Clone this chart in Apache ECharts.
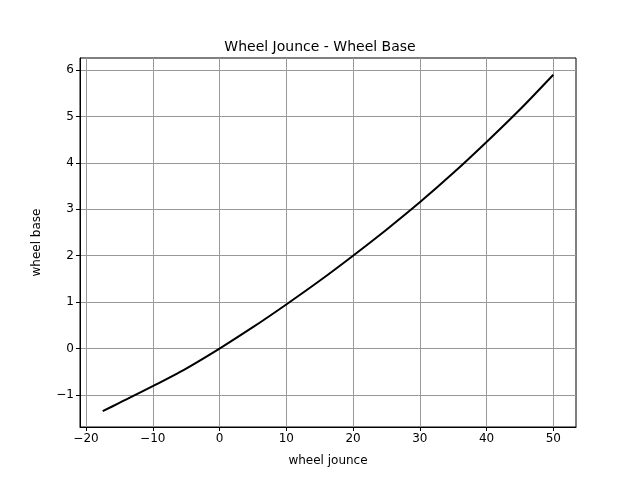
<!DOCTYPE html>
<html><head><meta charset="utf-8">
<script src="https://cdn.jsdelivr.net/npm/echarts@6/dist/echarts.min.js"></script>
<style>html,body{margin:0;padding:0;background:#fff}#c{width:640px;height:480px}</style>
</head><body><div id="c"></div>
<script>
const jounce = [-17.5, -15, -10, -5, 0, 5, 10, 15, 20, 25, 30, 35, 40, 45, 50];
const wheelBase = [-1.35, -1.17, -0.81, -0.43, 0, 0.46, 0.95, 1.46, 2.0, 2.56, 3.15, 3.78, 4.45, 5.15, 5.9];
const xTicks = [-20, -10, 0, 10, 20, 30, 40, 50];
const yTicks = [-1, 0, 1, 2, 3, 4, 5, 6];

const fmt = v => String(v).replace('-', '\u2212');
const font = 'DejaVu Sans';
const chart = echarts.init(document.getElementById('c'));
chart.setOption({
  animation: false,
  title: {text: 'Wheel Jounce - Wheel Base', left: 'center', top: 35,
    textStyle: {fontFamily: font, fontSize: 14, fontWeight: 'normal', color: '#000'}},
  grid: {left: 80, right: 64, top: 58, bottom: 53, show: true, borderColor: '#000', borderWidth: 1},
  xAxis: {type: 'value', min: -20.9, max: 53.4, name: 'wheel jounce', nameLocation: 'middle', nameGap: 28,
    nameTextStyle: {fontFamily: font, fontSize: 12, color: '#000'},
    axisLine: {show: true, onZero: false, lineStyle: {color: '#000'}},
    axisTick: {show: true, customValues: xTicks, length: 4, lineStyle: {color: '#000'}},
    axisLabel: {customValues: xTicks, formatter: fmt, fontFamily: font, fontSize: 12, color: '#000', margin: 6},
    splitLine: {show: true, lineStyle: {color: '#999', width: 1}}},
  yAxis: {type: 'value', min: -1.69, max: 6.26, name: 'wheel base', nameLocation: 'middle', nameGap: 37,
    nameTextStyle: {fontFamily: font, fontSize: 12, color: '#000'},
    axisLine: {show: true, onZero: false, lineStyle: {color: '#000'}},
    axisTick: {show: true, customValues: yTicks, length: 4, lineStyle: {color: '#000'}},
    axisLabel: {customValues: yTicks, formatter: fmt, fontFamily: font, fontSize: 12, color: '#000', margin: 6},
    splitLine: {show: true, lineStyle: {color: '#999', width: 1}}},
  series: [{type: 'line', data: jounce.map((x, i) => [x, wheelBase[i]]), smooth: 0.3, showSymbol: false,
    lineStyle: {color: '#000', width: 2}}]
});
</script></body></html>
